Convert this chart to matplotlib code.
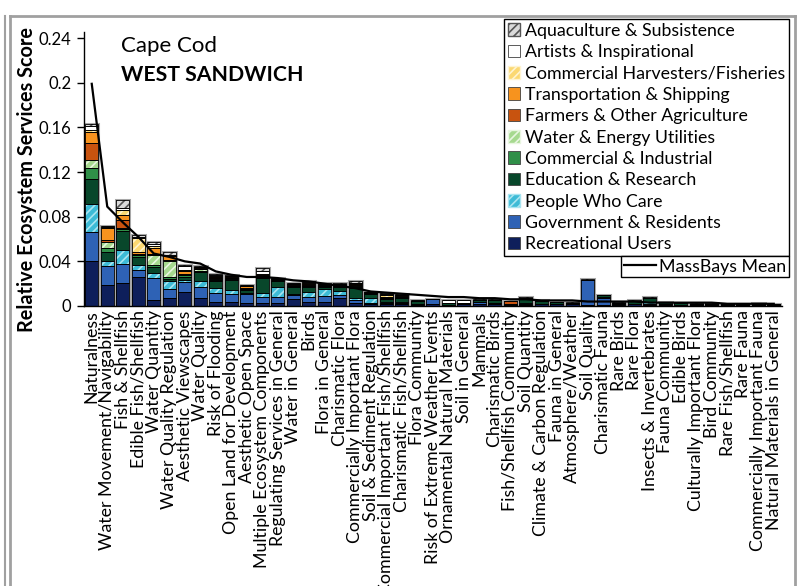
import matplotlib.pyplot as plt
from matplotlib.patches import Patch
from matplotlib.lines import Line2D
import numpy as np

plt.rcParams['font.family'] = ['Lato', 'DejaVu Sans']
plt.rcParams['hatch.linewidth'] = 1.2

categories = [
    "Naturalness", "Water Movement/Navigability", "Fish & Shellfish",
    "Edible Fish/Shellfish", "Water Quantity", "Water Quality Regulation",
    "Aesthetic Viewscapes", "Water Quality", "Risk of Flooding",
    "Open Land for Development", "Aesthetic Open Space",
    "Multiple Ecosystem Components", "Regulating Services in General",
    "Water in General", "Birds", "Flora in General", "Charismatic Flora",
    "Commercially Important Flora", "Soil & Sediment Regulation",
    "Commercial Important Fish/Shellfish", "Charismatic Fish/Shellfish",
    "Flora Community", "Risk of Extreme Weather Events",
    "Ornamental Natural Materials", "Soil in General", "Mammals",
    "Charismatic Birds", "Fish/Shellfish Community", "Soil Quantity",
    "Climate & Carbon Regulation", "Fauna in General", "Atmosphere/Weather",
    "Soil Quality", "Charismatic Fauna", "Rare Birds", "Rare Flora",
    "Insects & Invertebrates", "Fauna Community", "Edible Birds",
    "Culturally Important Flora", "Bird Community", "Rare Fish/Shellfish",
    "Rare Fauna", "Commercially Important Fauna", "Natural Materials in General",
]

# stacked from the bottom up
recreational = [0.040, 0.019, 0.021, 0.026, 0.0055, 0.007, 0.0125, 0.007, 0.004, 0.004,
                0.0025, 0.003, 0.003, 0.006, 0.004, 0.004, 0.007, 0.0025, 0.002, 0.002,
                0.002, 0.001, 0.002, 0.001, 0.0015, 0.002, 0.002, 0.001, 0.001, 0.0015,
                0.002, 0.0015, 0.001, 0.001, 0.001, 0.002, 0.001, 0.001, 0.001, 0.001,
                0.001, 0.0005, 0.001, 0.001, 0.001]
government = [0.026, 0.017, 0.017, 0.006, 0.0195, 0.008, 0.009, 0.010, 0.008, 0.0065,
              0.0085, 0.005, 0.005, 0.0035, 0.004, 0.005, 0.003, 0.003, 0.001, 0.001,
              0.001, 0.0005, 0.004, 0, 0, 0.002, 0.0005, 0, 0.001, 0.0005,
              0, 0.0005, 0.022, 0.006, 0.0005, 0, 0.001, 0.001, 0, 0,
              0, 0.0005, 0, 0, 0]
people_care = [0.025, 0.004, 0.012, 0.005, 0.005, 0.007, 0.0015, 0.005, 0.0045, 0.004,
               0.0005, 0.004, 0.009, 0.0015, 0.0045, 0.0065, 0.003, 0.0015, 0.004, 0.0005,
               0.0005, 0, 0, 0, 0, 0, 0, 0, 0.001, 0,
               0, 0, 0, 0.001, 0, 0, 0.002, 0, 0, 0,
               0, 0, 0.0005, 0, 0]
education = [0.023, 0.0086, 0.017, 0.007, 0.005, 0.0025, 0.003, 0.0085, 0.0055, 0.009,
             0.0025, 0.013, 0.005, 0.006, 0.0045, 0.0015, 0.004, 0.009, 0.004, 0.0025,
             0.0035, 0.003, 0.0005, 0.0015, 0.001, 0.0015, 0.003, 0.001, 0.004, 0.0025,
             0.0015, 0.001, 0.0005, 0.0015, 0.0015, 0.0025, 0.003, 0.0015, 0.0015, 0.001,
             0.001, 0.001, 0.0005, 0.001, 0.001]
commercial = [0.010, 0.003, 0.002, 0.0015, 0.0015, 0.0015, 0.0015, 0.001, 0.001, 0.0005,
              0.001, 0.001, 0.0005, 0.0005, 0.0005, 0.0005, 0.0005, 0.001, 0.0005, 0.0005,
              0.0005] + [0] * 24
utilities = [0.007, 0.006, 0.001, 0.0005, 0.009, 0.014, 0.0005, 0.0015, 0.001, 0.001,
             0.0005, 0.0005, 0.0005, 0.0005, 0.0005, 0.0005, 0.0005, 0.0005, 0.0005, 0.0005,
             0.0005] + [0] * 24
farmers = [0.015, 0.0014, 0.007, 0.001, 0.0015, 0.001, 0.001, 0.0005, 0.001, 0.0005,
           0.001, 0.0005, 0.0005, 0.001, 0.001, 0.0005, 0.0005, 0.001, 0.0002, 0.0005,
           0.0005, 0, 0, 0, 0, 0, 0, 0.0025, 0, 0,
           0, 0, 0, 0, 0, 0, 0, 0, 0, 0,
           0, 0, 0, 0, 0]
transport = [0.010, 0.011, 0.0045, 0.001, 0.0045, 0.0035, 0.002, 0.0005, 0.001, 0.0005,
             0.001, 0.001, 0.0005, 0.0005, 0.001, 0.0005, 0.0005, 0.001, 0.0002, 0.001,
             0.0005] + [0] * 24
harvesters = [0.002, 0.0005, 0.0045, 0.0125, 0.0025, 0.0005, 0.001, 0.0005, 0.001, 0.0005,
              0.0005, 0.001, 0.0005, 0.0005, 0.001, 0.0005, 0.0005, 0.001, 0.0002, 0.001,
              0.0005] + [0] * 24
artists = [0.003, 0.001, 0.002, 0.0015, 0.0015, 0.001, 0.004, 0.0005, 0.0005, 0.0005,
           0.0005, 0.002, 0.0005, 0.0005, 0.0005, 0.0005, 0.0005, 0.0005, 0.0001, 0.001,
           0.0005, 0.001, 0, 0.003, 0.003, 0, 0, 0, 0, 0,
           0, 0, 0, 0, 0, 0, 0, 0, 0, 0,
           0, 0, 0, 0, 0]
aquaculture = [0.002, 0.0005, 0.007, 0.0015, 0.0015, 0.002, 0.001, 0.001, 0.0015, 0.001,
               0.0005, 0.003, 0.0005, 0.0005, 0.001, 0.0005, 0.0005, 0.001, 0.0001, 0.001,
               0.0007, 0, 0, 0, 0, 0.0005, 0.0005, 0, 0.001, 0.0005,
               0.0005, 0.0005, 0.0005, 0.0005, 0.0005, 0.001, 0.001, 0, 0.0005, 0.0005,
               0.0005, 0, 0, 0.0005, 0]

massbays_mean = [0.199, 0.089, 0.075, 0.062, 0.047, 0.044, 0.040, 0.038, 0.031, 0.028,
                 0.026, 0.026, 0.025, 0.023, 0.022, 0.020, 0.018, 0.016, 0.013, 0.012,
                 0.011, 0.010, 0.009, 0.008, 0.008, 0.007, 0.007, 0.006, 0.006, 0.005,
                 0.005, 0.005, 0.004, 0.004, 0.004, 0.004, 0.003, 0.003, 0.003, 0.003,
                 0.003, 0.002, 0.002, 0.002, 0.002]

# (label, values, face, hatch colour or None)
groups = [
    ("Recreational Users", recreational, "#0E1F5B", None),
    ("Government & Residents", government, "#2E62B5", None),
    ("People Who Care", people_care, "#3DBBD6", "#A8E4F0"),
    ("Education & Research", education, "#08472B", None),
    ("Commercial & Industrial", commercial, "#2F8F48", None),
    ("Water & Energy Utilities", utilities, "#A6D98F", "#E8F6E0"),
    ("Farmers & Other Agriculture", farmers, "#C8530F", None),
    ("Transportation & Shipping", transport, "#F7931E", None),
    ("Commercial Harvesters/Fisheries", harvesters, "#FBD872", "#FFF4D0"),
    ("Artists & Inspirational", artists, "#FFFFFF", None),
    ("Aquaculture & Subsistence", aquaculture, "#DADADA", "#555555"),
]

fig = plt.figure(figsize=(8.01, 5.86), dpi=100)
W, H = 801, 586
ax = fig.add_axes([84 / W, 1 - 306 / H, (781.5 - 84) / W, (306 - 32) / H])

x = np.arange(len(categories))
bw = 0.84
totals = np.sum([g[1] for g in groups], axis=0)
ax.bar(x, totals, width=bw, fill=False, edgecolor="#A8A8A8", linewidth=2.2, zorder=1)

bottom = np.zeros(len(categories))
for name, vals, face, hcol in groups:
    vals = np.array(vals)
    if hcol:
        ax.bar(x, vals, bottom=bottom, width=bw, color=face, edgecolor=hcol,
               hatch="////", linewidth=0, zorder=2)
    else:
        ax.bar(x, vals, bottom=bottom, width=bw, color=face, linewidth=0, zorder=2)
    ax.bar(x, vals, bottom=bottom, width=bw, fill=False, edgecolor="black",
           linewidth=0.6, zorder=3)
    bottom += vals

ax.plot(x, massbays_mean, color="black", lw=1.6, zorder=4)

ax.set_xlim(-0.5, len(categories) - 0.5)
ax.set_ylim(0, 0.2454)
ax.set_yticks([0, 0.04, 0.08, 0.12, 0.16, 0.2, 0.24])
ax.set_yticklabels(["0", "0.04", "0.08", "0.12", "0.16", "0.2", "0.24"], fontsize=12)
ax.set_xticks(x)
ax.set_xticklabels(categories, rotation=90, fontsize=12.8)
ax.tick_params(axis="x", length=0, pad=3)
ax.tick_params(axis="y", length=5, width=1, pad=4)
for s in ["top", "right"]:
    ax.spines[s].set_visible(False)
ax.spines["left"].set_linewidth(1)
ax.spines["bottom"].set_linewidth(1)

fig.text(27 / W, 1 - 179 / H, "Relative Ecosystem Services Score", rotation=90,
         fontsize=14.3, fontweight="bold", ha="center", va="center")
fig.text(121 / W, 1 - 52 / H, "Cape Cod", fontsize=16, va="baseline")
fig.text(121 / W, 1 - 81 / H, "WEST SANDWICH", fontsize=15.3, fontweight="bold", va="baseline")

handles = []
for name, vals, face, hcol in groups[::-1]:
    if hcol:
        handles.append(Patch(facecolor=face, edgecolor=hcol, hatch="////", label=name))
    else:
        handles.append(Patch(facecolor=face, edgecolor="#404040", lw=0.6, label=name))
leg = fig.legend(handles=handles, loc="upper right", bbox_to_anchor=(789 / W, 1 - 19 / H),
                 fontsize=12.8, frameon=True, fancybox=False, framealpha=1, edgecolor="black",
                 handlelength=0.7, handleheight=0.7, handletextpad=0.25, labelspacing=0.3,
                 borderpad=0.22, borderaxespad=0)
leg.get_frame().set_linewidth(1)
leg2 = fig.legend(handles=[Line2D([], [], color="black", lw=1.6, label="MassBays Mean")],
                  loc="upper right", bbox_to_anchor=(789 / W, 1 - 256 / H), fontsize=12.8,
                  frameon=True, fancybox=False, framealpha=1, edgecolor="black",
                  handlelength=1.8, handletextpad=0.2, borderpad=0.15, borderaxespad=0)
leg2.get_frame().set_linewidth(1)

# panel borders of the screenshot
gray = "#A0A0A0"
fig.add_artist(Line2D([10 / W, 10 / W], [0, 1 - 16 / H], color=gray, lw=2))
fig.add_artist(Line2D([10 / W, 795 / W], [1 - 16 / H, 1 - 16 / H], color=gray, lw=2))
fig.add_artist(Line2D([795 / W, 795 / W], [0, 1 - 16 / H], color=gray, lw=2))
fig.add_artist(Line2D([5 / W, 5 / W], [0, 1 - 16 / H], color=gray, lw=1.5))

fig.savefig("out.png", dpi=100)
